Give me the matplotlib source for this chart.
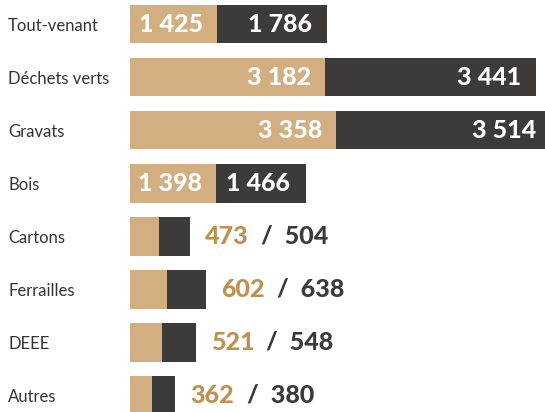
import matplotlib
matplotlib.use("Agg")
import matplotlib.pyplot as plt
import matplotlib.transforms as mtransforms

# donnees
categories = ["Tout-venant", "Déchets verts", "Gravats", "Bois",
              "Cartons", "Ferrailles", "DEEE", "Autres"]
valeurs_1 = [1425, 3182, 3358, 1398, 473, 602, 521, 362]
valeurs_2 = [1786, 3441, 3514, 1466, 504, 638, 548, 380]

tan = "#D2AE80"
tan_txt = "#BF904F"
sombre = "#3C3B39"

def fmt(v):
    return f"{v:,}".replace(",", " ")

W, H = 545, 412
fig = plt.figure(figsize=(W / 100, H / 100), dpi=100)
ax = fig.add_axes([130 / W, 0, 1 - 130 / W, 1])
ax.set_xlim(0, 6770)
ax.set_ylim(7.32, -0.453)
ax.axis("off")

y = list(range(len(categories)))
ax.barh(y, valeurs_1, height=0.735, color=tan, linewidth=0)
ax.barh(y, valeurs_2, left=valeurs_1, height=0.735, color=sombre, linewidth=0)

num_font = dict(family="Lato", weight="black", fontsize=18)
trans = mtransforms.blended_transform_factory(fig.transFigure, ax.transData)

for i, (cat, a, b) in enumerate(zip(categories, valeurs_1, valeurs_2)):
    ax.annotate(cat, xy=(8 / W, i), xycoords=trans, xytext=(0, -1.5),
                textcoords="offset points", ha="left", va="center",
                family="Lato", fontsize=12, color="#333333")
    if a >= 1000:
        ax.annotate(fmt(a), xy=(a, i), xytext=(-10, 0), textcoords="offset points",
                    ha="right", va="center", color="white", **num_font)
        ax.annotate(fmt(b), xy=(a + b, i), xytext=(-11, 0), textcoords="offset points",
                    ha="right", va="center", color="white", annotation_clip=False,
                    **num_font)
    else:
        t1 = ax.annotate(fmt(a), xy=(a + b, i), xytext=(11, 0), textcoords="offset points",
                         ha="left", va="center", color=tan_txt, **num_font)
        ax.annotate("  /  " + fmt(b), xy=(1, 0), xycoords=t1, ha="left", va="bottom",
                    color=sombre, **num_font)

fig.savefig("out.png", dpi=100)
